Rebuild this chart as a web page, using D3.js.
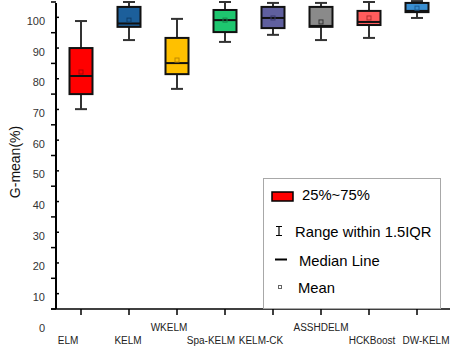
<!DOCTYPE html>
<html>
<head>
<meta charset="utf-8">
<script src="https://cdn.jsdelivr.net/npm/d3@7"></script>
<style>
  body { margin: 0; background: #fff; }
  text { font-family: "Liberation Sans", Arial, sans-serif; }
</style>
</head>
<body>
<svg id="chart" width="450" height="347"></svg>
<script>
// data (G-mean %)
const models = ["ELM", "KELM", "WKELM", "Spa-KELM", "KELM-CK", "ASSHDELM", "HCKBoost", "DW-KELM"];
const whiskerLow  = [65.1, 87.6, 71.7, 87.0, 89.3, 87.6, 88.3, 94.8];
const q1          = [70.0, 91.9, 76.5, 90.2, 91.5, 91.9, 92.5, 96.7];
const medians     = [75.9, 93.0, 80.1, 94.1, 94.8, 92.2, 93.5, 97.1];
const q3          = [85.0, 98.4, 88.3, 97.4, 98.4, 98.4, 97.1, 99.7];
const whiskerHigh = [93.8, 100.0, 94.5, 100.0, 99.7, 99.7, 100.0, 100.3];
const means       = [77.2, 94.1, 81.1, 94.1, 94.8, 93.5, 94.8, 98.0];
const yTicks = [0, 10, 20, 30, 40, 50, 60, 70, 80, 90, 100];
const legendLabels = ["25%~75%", "Range within 1.5IQR", "Median Line", "Mean"];

const fills   = ["#ff0000", "#1c5f9b", "#ffc000", "#1ec66f", "#5f5f9e", "#8a8a8a", "#ff5c5c", "#3a8fd1"];
const markers = ["#b00000", "#0e3e6a", "#c08a00", "#138a4c", "#3a3a6e", "#333333", "#b03030", "#1d5f96"];
// label nudges (dx, raised?) as in the picture
const labelDx = [-13, -1, -8, -14, -12, 0, 3, 9];
const labelUp = [false, false, true, false, false, true, false, false];

const svg = d3.select("#chart");

const x = d3.scaleBand().domain(models).range([57, 441]);
const y = d3.scaleLinear().domain([0, 100]).range([309, 2]);
const cx = d => x(d) + x.bandwidth() / 2;
const boxW = 23, capW = 12;

// y axis
const yAxis = svg.append("g").attr("transform", "translate(56,0)");
yAxis.append("line")
  .attr("x1", 0).attr("x2", 0).attr("y1", 3).attr("y2", 309)
  .attr("stroke", "#000").attr("stroke-width", 2);
yAxis.selectAll(".major").data(yTicks).join("line")
  .attr("class", "major")
  .attr("x1", -5).attr("x2", 0)
  .attr("y1", d => y(d)).attr("y2", d => y(d))
  .attr("stroke", "#000").attr("stroke-width", 1.5);
yAxis.selectAll(".minor").data(yTicks.slice(0, -1)).join("line")
  .attr("class", "minor")
  .attr("x1", 0).attr("x2", 3)
  .attr("y1", d => y(d + 5)).attr("y2", d => y(d + 5))
  .attr("stroke", "#000").attr("stroke-width", 1.5);
yAxis.selectAll(".lbl").data(yTicks).join("text")
  .attr("class", "lbl")
  .attr("x", -11)
  .attr("y", d => y(d) + 19)
  .attr("dy", "0.35em")
  .attr("text-anchor", "end")
  .attr("font-size", 11)
  .attr("fill", "#333")
  .text(d => d);

svg.append("text")
  .attr("transform", "translate(20,162) rotate(-90)")
  .attr("text-anchor", "middle")
  .attr("font-size", 14)
  .attr("fill", "#111")
  .text("G-mean(%)");

// x axis
const xAxis = svg.append("g");
xAxis.append("line")
  .attr("x1", 51).attr("x2", 450).attr("y1", 309).attr("y2", 309)
  .attr("stroke", "#000").attr("stroke-width", 1.5);
xAxis.selectAll(".tick").data(models).join("line")
  .attr("class", "tick")
  .attr("x1", cx).attr("x2", cx)
  .attr("y1", 309).attr("y2", 315)
  .attr("stroke", "#000").attr("stroke-width", 1.5);
xAxis.selectAll(".lbl").data(models).join("text")
  .attr("class", "lbl")
  .attr("x", (d, i) => cx(d) + labelDx[i])
  .attr("y", (d, i) => labelUp[i] ? 331 : 344)
  .attr("text-anchor", "middle")
  .attr("font-size", 10)
  .attr("fill", "#222")
  .text(d => d);

// legend
const lg = svg.append("g");
lg.append("rect")
  .attr("x", 263.5).attr("y", 178.5).attr("width", 177).attr("height", 130)
  .attr("fill", "#fff").attr("stroke", "#a8a8a8");
lg.append("rect")
  .attr("x", 272).attr("y", 192).attr("width", 21).attr("height", 9)
  .attr("fill", "#ff0000").attr("stroke", "#000").attr("stroke-width", 1.5);
lg.append("path")
  .attr("d", "M276,226.5H282M279,226.5V235.5M276,235.5H282")
  .attr("stroke", "#000").attr("stroke-width", 1.2).attr("fill", "none");
lg.append("line")
  .attr("x1", 275).attr("x2", 287).attr("y1", 259.5).attr("y2", 259.5)
  .attr("stroke", "#000").attr("stroke-width", 2);
lg.append("rect")
  .attr("x", 278.5).attr("y", 285.5).attr("width", 3).attr("height", 3)
  .attr("fill", "none").attr("stroke", "#666").attr("stroke-width", 1);
lg.selectAll(".ltxt").data(legendLabels).join("text")
  .attr("class", "ltxt")
  .attr("x", (d, i) => [302, 295, 299, 298][i])
  .attr("y", (d, i) => [195, 232, 261, 288][i])
  .attr("dy", "0.35em")
  .attr("font-size", 14.8)
  .attr("fill", "#000")
  .text(d => d);

// boxes
const g = svg.append("g").selectAll("g").data(models).join("g");

g.append("line") // lower whisker
  .attr("x1", cx).attr("x2", cx)
  .attr("y1", (d, i) => y(whiskerLow[i])).attr("y2", (d, i) => y(q1[i]))
  .attr("stroke", "#333").attr("stroke-width", 2);
g.append("line") // upper whisker
  .attr("x1", cx).attr("x2", cx)
  .attr("y1", (d, i) => y(whiskerHigh[i])).attr("y2", (d, i) => y(q3[i]))
  .attr("stroke", "#333").attr("stroke-width", 2);
g.append("line")
  .attr("x1", d => cx(d) - capW / 2).attr("x2", d => cx(d) + capW / 2)
  .attr("y1", (d, i) => y(whiskerLow[i])).attr("y2", (d, i) => y(whiskerLow[i]))
  .attr("stroke", "#333").attr("stroke-width", 2);
g.append("line")
  .attr("x1", d => cx(d) - capW / 2).attr("x2", d => cx(d) + capW / 2)
  .attr("y1", (d, i) => y(whiskerHigh[i])).attr("y2", (d, i) => y(whiskerHigh[i]))
  .attr("stroke", "#333").attr("stroke-width", 2);

g.append("rect")
  .attr("x", d => cx(d) - boxW / 2)
  .attr("width", boxW)
  .attr("y", (d, i) => y(q3[i]))
  .attr("height", (d, i) => y(q1[i]) - y(q3[i]))
  .attr("fill", (d, i) => fills[i])
  .attr("stroke", "#111").attr("stroke-width", 2);

g.append("line")
  .attr("x1", d => cx(d) - boxW / 2).attr("x2", d => cx(d) + boxW / 2)
  .attr("y1", (d, i) => y(medians[i])).attr("y2", (d, i) => y(medians[i]))
  .attr("stroke", "#111").attr("stroke-width", 2);

g.append("rect")
  .attr("x", d => cx(d) - 2)
  .attr("y", (d, i) => y(means[i]) - 2)
  .attr("width", 4).attr("height", 4)
  .attr("fill", "none")
  .attr("stroke", (d, i) => markers[i]).attr("stroke-width", 1);
</script>
</body>
</html>
